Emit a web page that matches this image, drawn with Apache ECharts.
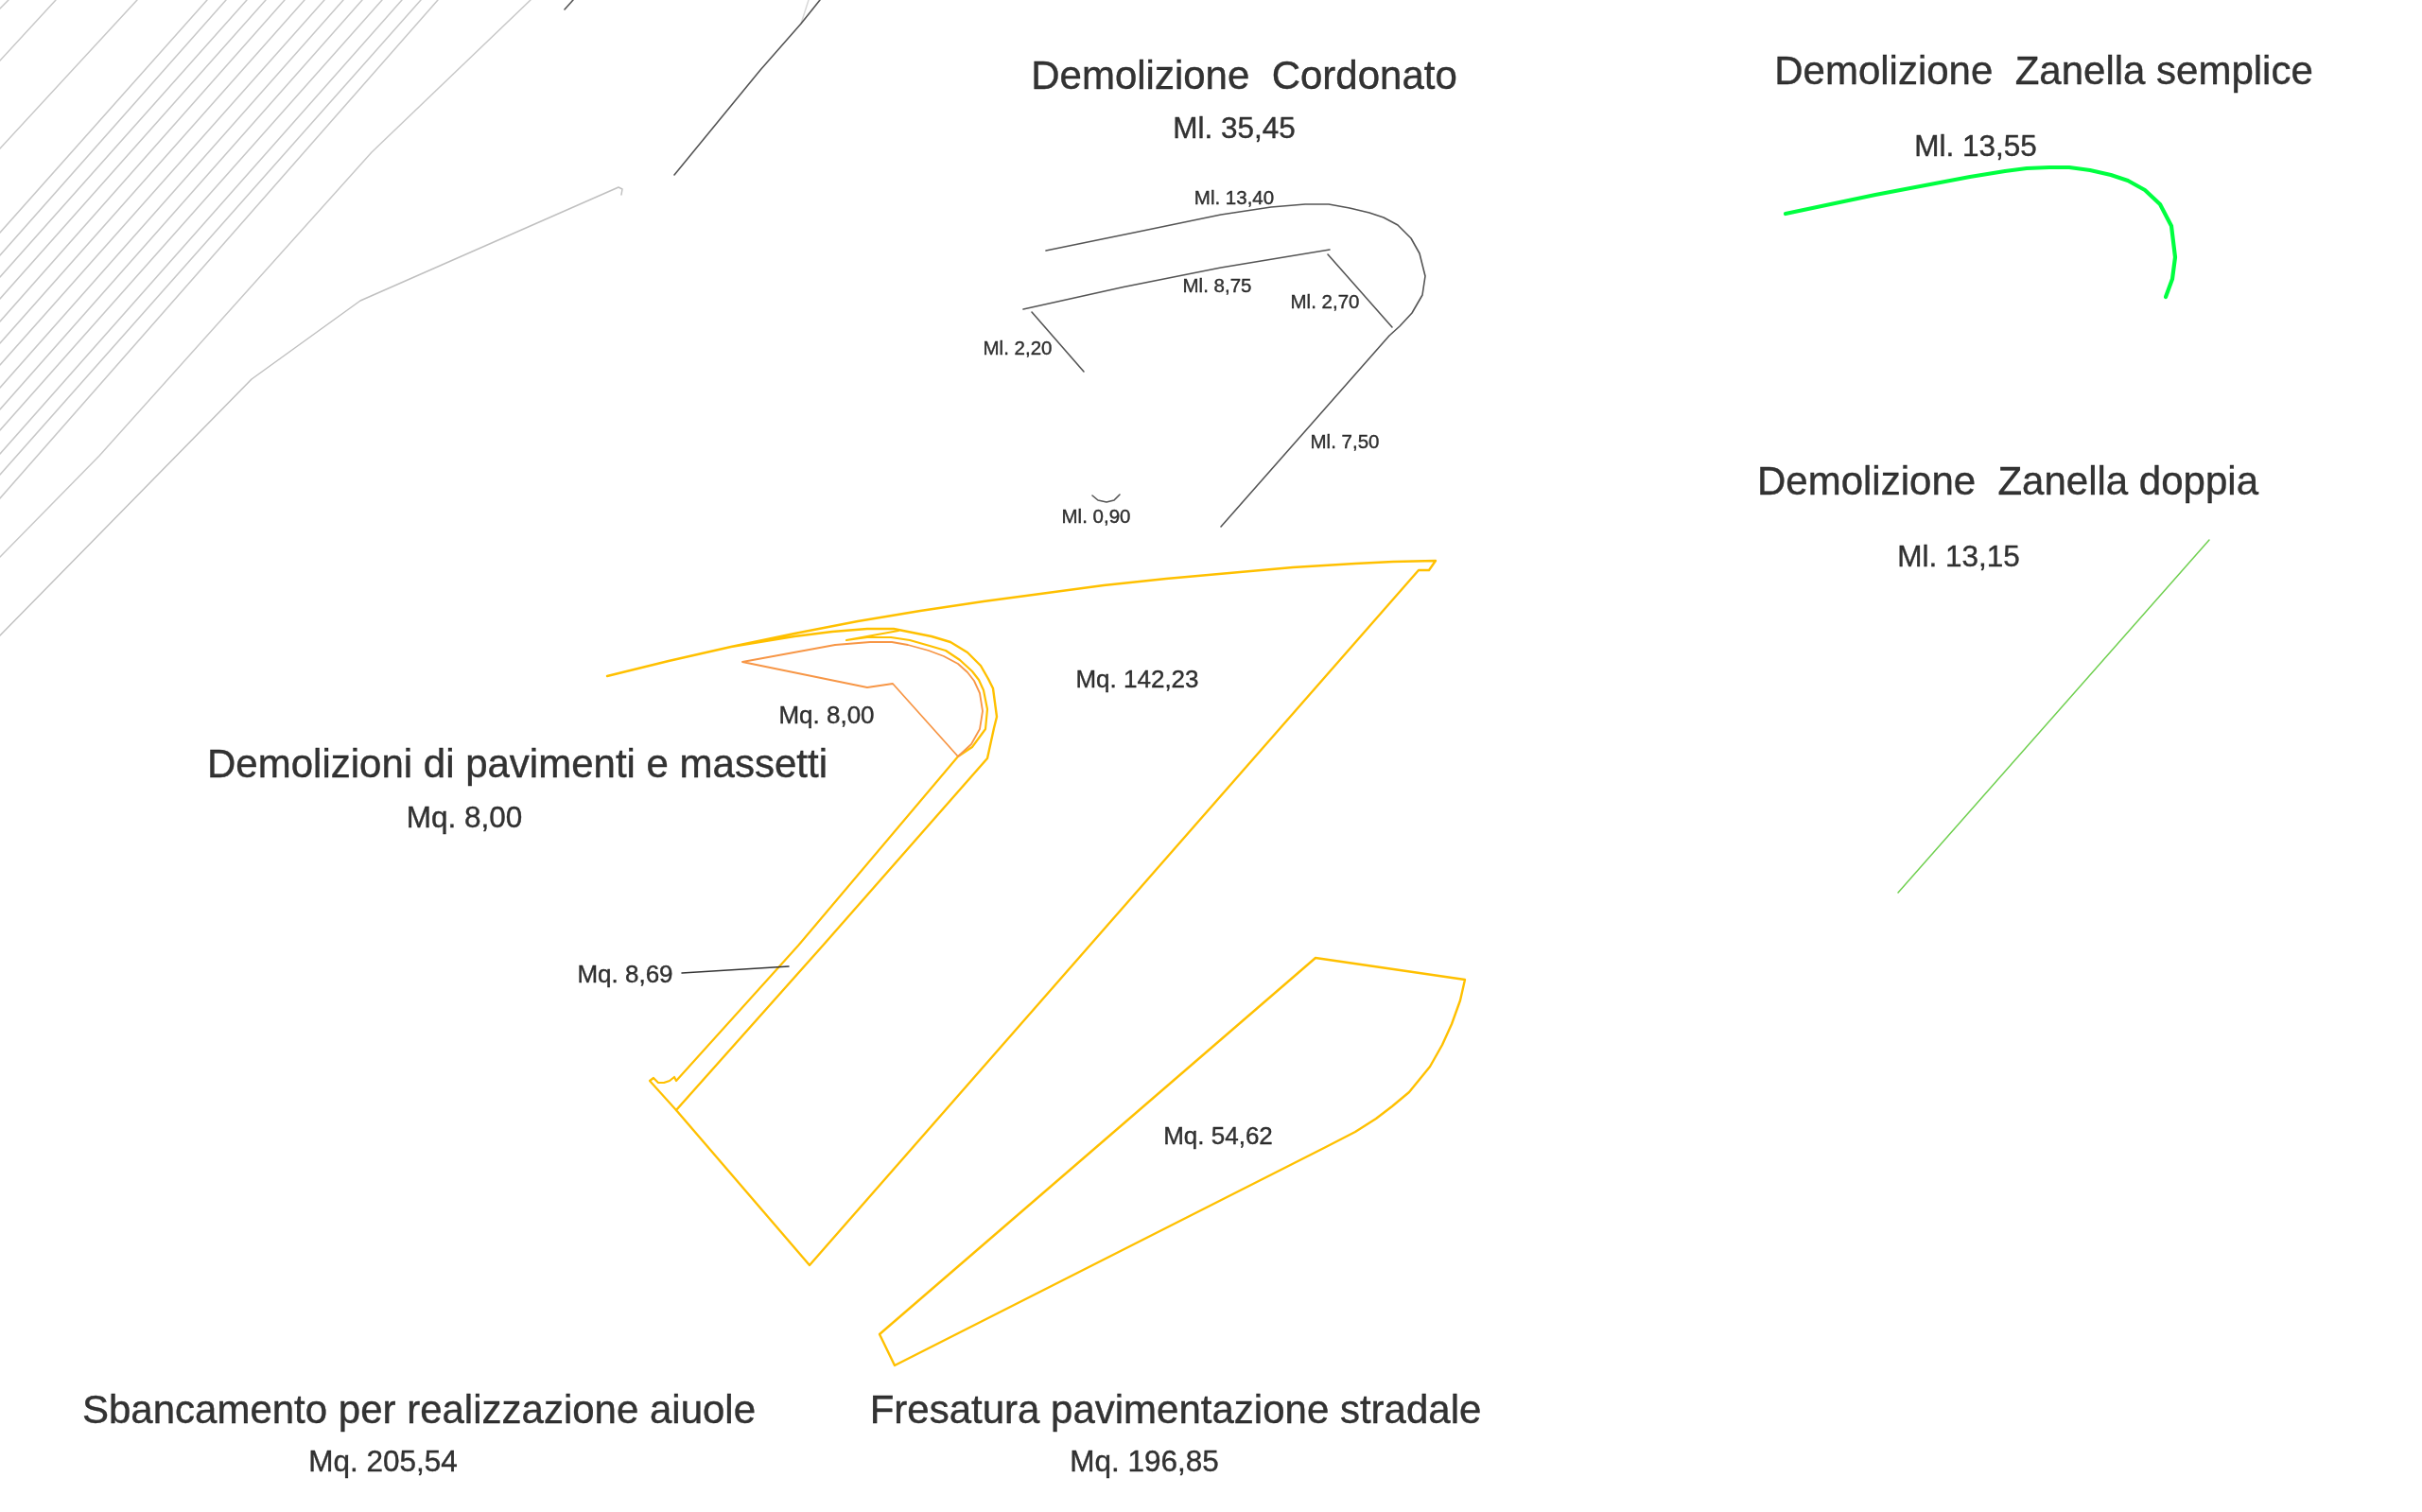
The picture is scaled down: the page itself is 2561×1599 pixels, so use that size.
<!DOCTYPE html>
<html><head><meta charset="utf-8">
<style>html,body{margin:0;padding:0;background:#fff}#c{width:2561px;height:1599px}</style>
<script src="https://cdn.jsdelivr.net/npm/echarts@6/dist/echarts.min.js"></script>
</head><body><div id="c"></div>
<script>
// drawing units are the sheet's own 2561 x 1599 frame
const hatchTopX = [59,145,219,239,261,281,301,322,343,363,383,404,425,445,463];
const hatchLeftY = [64,157,246,270,293,316,340,363,386,410,433,455,480,502,527];
const cornerTick = [[0,9],[9,0]];
const greyBentA = [[561,0],[393,161],[105,482],[0,589]];
const greyBentB = [[0,672],[266,401],[381,318],[654,198],[658,200],[657,206]];
const greyStub = [[855,0],[847,25]];
const darkStub = [[597,10],[606,0]];
const darkRoad = [[867,0],[847,25],[804,74],[713,185]];

const cordonatoOuter = [[1106,265],[1199,246],[1291,227],[1344,219],[1380,216],[1405,216],[1427,220],[1448,225],[1463,230],[1478,238],[1492,252],[1501,268],[1507,292],[1504,312],[1493,331],[1480,345],[1469,355],[1291,557]];
const cordonatoInner = [[1082,327],[1188,303.5],[1291,283],[1406,264]];
const cordonato270 = [[1404,269],[1472,346]];
const cordonato220 = [[1091,330],[1146,393]];
const cordonato090 = [[1155,524],[1161,529],[1170,531],[1178,529],[1184,523]];

const sbancamento = [[642,715],[707,699],[773,684],[840,670],[907,657],[973,646],[1040,636],[1100,628],[1167,619],[1233,612],[1300,606],[1367,600],[1433,596],[1473,594],[1518,593],[1511,603],[1500,603],[856,1338],[715,1174],[870,1000],[1044,802],[1051,770],[1054,758],[1050,728],[1045,718],[1037,704],[1023,690],[1005,679],[985,673],[945,665],[917,665],[880,668],[840,673],[797,680],[773,684],[707,699],[642,715]];
const aiuolaStretta = [[950,667],[895,677],[917,674],[942,674],[962,677],[983,683],[1000,688],[1015,698],[1028,710],[1035,719],[1040,730],[1044,750],[1042,771],[1028,790],[1013,800],[844,1000],[715,1143],[713,1139],[708,1143],[702,1145],[696,1145],[691,1140],[687,1143],[715,1174]];
const pavimenti = [[785,700],[883,682],[920,679],[943,679],[960,682],[982,688],[998,694],[1013,702],[1023,711],[1030,720],[1036,733],[1039,752],[1036,771],[1027,787],[1013,800],[944,723],[917,727],[785,700]];
const fresatura = [[1391,1013],[1549,1036],[1544,1058],[1535,1083],[1525,1105],[1512,1128],[1490,1155],[1472,1170],[1455,1183],[1433,1197],[1400,1214],[946,1444],[930,1411],[1391,1013]];
const leader = [[721,1029],[834,1022]];

const zanellaSemplice = [[1888,226],[1983,206],[2083,187],[2120,181],[2143,178],[2167,177],[2188,177],[2210,180],[2232,185],[2250,191],[2268,201],[2284,216],[2296,239],[2300,272],[2297,295],[2290,314]];
const zanellaDoppia = [[2336,571],[2007,944]];

const titles = [
  ["Demolizione  Cordonato",1315.5,82],
  ["Demolizione  Zanella semplice",2161,77],
  ["Demolizione  Zanella doppia",2123,511],
  ["Demolizioni di pavimenti e massetti",547,810],
  ["Sbancamento per realizzazione aiuole",443,1493],
  ["Fresatura pavimentazione stradale",1243,1493]
];
const totals = [
  ["Ml. 35,45",1305,137],["Ml. 13,55",2089,156],["Ml. 13,15",2071,590],
  ["Mq. 8,00",491,866],["Mq. 205,54",405,1547],["Mq. 196,85",1210,1547]
];
const areas = [
  ["Mq. 8,00",874,758],["Mq. 142,23",1202.5,720],["Mq. 8,69",661,1032],["Mq. 54,62",1288,1203]
];
const pieces = [
  ["Ml. 13,40",1305,210],["Ml. 8,75",1287,303],["Ml. 2,70",1401,320],
  ["Ml. 2,20",1076,369],["Ml. 7,50",1422,468],["Ml. 0,90",1159,547]
];

const FONT = '"Liberation Sans", Arial, sans-serif';
function line(data,color,width){
  return {type:'line',data:data,showSymbol:false,symbol:'none',silent:true,animation:false,clip:true,
    lineStyle:{color:color,width:width,join:'round',cap:'round'},z:2};
}
function text(rows,size){
  return {type:'scatter',silent:true,animation:false,symbolSize:1,z:5,
    itemStyle:{color:'rgba(0,0,0,0)'},
    data:rows.map(r=>({value:[r[1],r[2]],name:r[0]})),
    label:{show:true,position:'inside',formatter:p=>p.name,color:'#000',fontFamily:FONT,fontSize:size,
      textBorderColor:'#000',textBorderWidth:0.4}};
}
const series=[];
hatchTopX.forEach((x,i)=>series.push(line([[x,0],[0,hatchLeftY[i]]],'#c8c8c8',1.5)));
series.push(line(cornerTick,'#c8c8c8',1.5),line(greyBentA,'#c8c8c8',1.5),line(greyBentB,'#c0c0c0',1.5),line(greyStub,'#d8d8d8',1.5));
series.push(line(darkStub,'#555',1.6),line(darkRoad,'#555',1.6));
[cordonatoOuter,cordonatoInner,cordonato270,cordonato220,cordonato090].forEach(d=>series.push(line(d,'#555',1.6)));
series.push(line(sbancamento,'#FFC000',2.4),line(aiuolaStretta,'#FFC000',2.2),line(pavimenti,'#F79646',1.8),line(fresatura,'#FFC000',2.4),line(leader,'#333',1.5));
series.push(line(zanellaSemplice,'#00FF40',4.2),line(zanellaDoppia,'#70D050',1.5));
series.push(text(titles,42),text(totals,31.5),text(areas,26),text(pieces,20.5));

const chart=echarts.init(document.getElementById('c'),null,{renderer:'canvas'});
chart.setOption({
  backgroundColor:'#fff',animation:false,
  tooltip:{show:false},legend:{show:false},
  grid:{left:0,right:0,top:0,bottom:0,containLabel:false},
  xAxis:{type:'value',min:0,max:2561,show:false},
  yAxis:{type:'value',min:0,max:1599,inverse:true,show:false},
  series:series
});
</script></body></html>
